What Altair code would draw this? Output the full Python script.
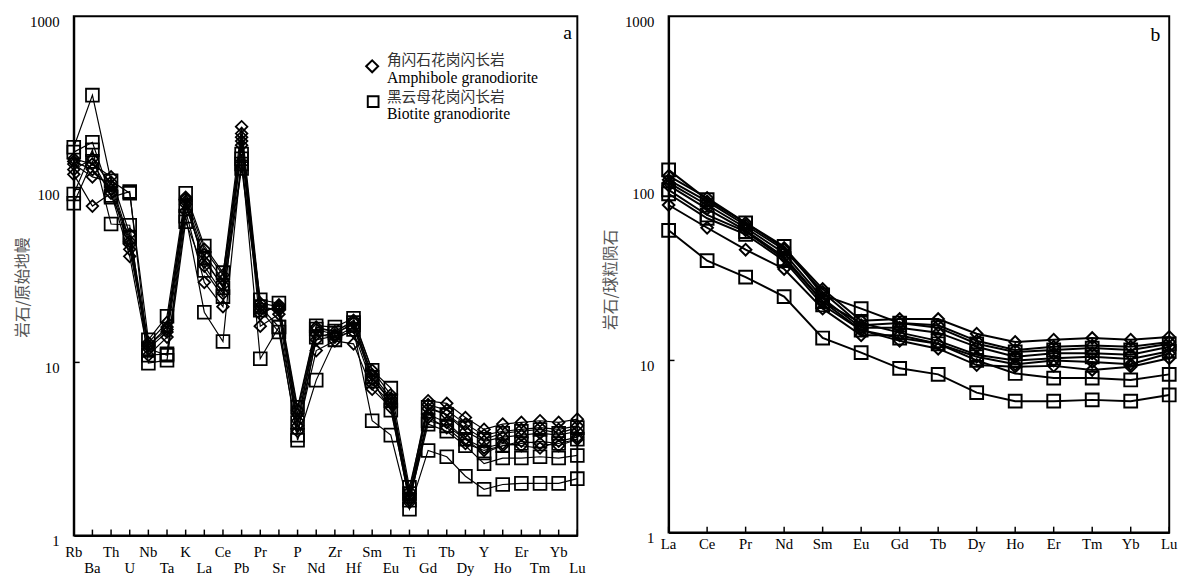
import json
import altair as alt
import pandas as pd

# ---------------- data ----------------
ELEMENTS_A = ["Rb", "Ba", "Th", "U", "Nb", "Ta", "K", "La", "Ce", "Pb", "Pr", "Sr", "P", "Nd",
              "Zr", "Hf", "Sm", "Eu", "Ti", "Gd", "Tb", "Dy", "Y", "Ho", "Er", "Tm", "Yb", "Lu"]
ELEMENTS_B = ["La", "Ce", "Pr", "Nd", "Sm", "Eu", "Gd", "Tb", "Dy", "Ho", "Er", "Tm", "Yb", "Lu"]

SAMPLES = ["A1", "A2", "A3", "A4", "A5", "B1", "B2", "B3", "B4"]
ROCK_GROUPS = ["Amphibole"] * 5 + ["Biotite"] * 4

# primitive-mantle normalised (panel a)
PM_A1 = [150, 140, 118, 55, 13, 17, 90, 45, 32, 230, 22, 21, 5.3, 16, 15, 17.5, 9, 6.5, 1.8, 6.0, 5.8, 4.8, 4.1, 4.4, 4.5, 4.6, 4.5, 4.7]
PM_A2 = [140, 118, 110, 50, 12.5, 16, 85, 42, 30, 210, 21, 20, 5.0, 15.5, 14.5, 17, 8.5, 6.2, 1.7, 5.7, 5.3, 4.4, 3.8, 4.0, 4.1, 4.2, 4.1, 4.3]
PM_A3 = [130, 150, 105, 48, 12, 15, 82, 38, 28, 200, 20, 20.5, 4.6, 14.5, 14, 16, 8, 6, 1.65, 5.4, 5.0, 4.0, 3.5, 3.7, 3.8, 3.9, 3.8, 4.0]
PM_A4 = [122, 80, 95, 41, 11, 14, 75, 29, 21, 180, 16.2, 19, 4.0, 11.7, 13.3, 12.8, 7, 5.5, 1.55, 4.8, 4.2, 3.4, 3.1, 3.3, 3.5, 3.4, 3.3, 3.6]
PM_A5 = [145, 130, 100, 45, 12.5, 15.5, 88, 36, 25, 190, 19, 21.5, 4.3, 13.5, 14.2, 15, 7.5, 5.8, 1.6, 5.0, 4.5, 3.6, 3.2, 3.4, 3.3, 3.2, 3.5, 3.7]
PM_B1 = [175, 350, 112, 95, 13.5, 18.5, 95, 47, 33, 160, 23, 22, 5.5, 16.3, 16, 18, 9, 7.1, 1.9, 5.5, 5.0, 4.2, 3.6, 3.9, 4.0, 4.1, 3.9, 4.2]
PM_B2 = [164, 187, 90, 97, 11, 11.2, 80, 40, 27, 140, 21, 16, 4.5, 15.6, 15.2, 17, 8.2, 6.0, 1.75, 4.6, 4.3, 3.6, 3.0, 3.3, 3.4, 3.5, 3.4, 3.6]
PM_B3 = [94, 169, 63, 62, 9.9, 10.3, 65, 34, 24, 132, 20, 15, 3.8, 14, 14.8, 16.5, 7.8, 5.3, 1.6, 4.4, 4.0, 3.3, 2.6, 2.8, 2.8, 2.85, 2.8, 2.9]
PM_B4 = [83, 145, 92, 53, 12, 11, 70, 19.5, 13.2, 150, 10.5, 16, 3.55, 7.9, 13.5, 15.5, 4.6, 3.8, 1.42, 3.1, 2.85, 2.2, 1.85, 1.97, 2.0, 2.0, 2.0, 2.13]

# chondrite normalised (panel b)
CH_A1 = [118, 88, 63, 45, 26, 17, 17.4, 17.4, 14.3, 12.8, 13.2, 13.5, 13.2, 13.7]
CH_A2 = [112, 84, 61, 44, 25, 16, 16.5, 16, 13, 11.5, 12, 12.2, 12, 12.8]
CH_A3 = [108, 80, 59, 42, 23, 15.5, 15.5, 14.5, 12, 10.5, 11, 11, 10.8, 12]
CH_A4 = [80, 59, 44, 34, 20, 14, 14, 12.5, 10.5, 9.5, 10, 9.8, 9.5, 11]
CH_A5 = [104, 76, 57, 40, 22, 15, 13, 11.7, 9.4, 9.2, 9.3, 8.8, 9.2, 10.3]
CH_B1 = [128, 86, 63, 46, 24, 20, 16.5, 15.5, 12.5, 11.2, 11.5, 11.8, 11.5, 12.5]
CH_B2 = [98, 70, 56, 39, 22, 16.5, 14.5, 13, 10.8, 10, 10.3, 10.5, 10.2, 11.3]
CH_B3 = [93, 67, 54, 38, 21, 15, 13.5, 12.5, 10, 8.4, 7.9, 7.9, 7.7, 8.3]
CH_B4 = [57, 38, 30.5, 23.5, 13.5, 11.1, 9, 8.3, 6.5, 5.8, 5.8, 5.9, 5.8, 6.3]

PM_SERIES = [PM_A1, PM_A2, PM_A3, PM_A4, PM_A5, PM_B1, PM_B2, PM_B3, PM_B4]
CH_SERIES = [CH_A1, CH_A2, CH_A3, CH_A4, CH_A5, CH_B1, CH_B2, CH_B3, CH_B4]

Y_TICKS = [1, 10, 100, 1000]
LEGEND_CN = ["角闪石花岗闪长岩", "黑云母花岗闪长岩"]
LEGEND_EN = ["Amphibole granodiorite", "Biotite granodiorite"]
TITLE_A = "岩石/原始地幔"
TITLE_B = "岩石/球粒陨石"


def long_table(elements, series):
    rows = []
    for name, grp, vals in zip(SAMPLES, ROCK_GROUPS, series):
        for i, (el, v) in enumerate(zip(elements, vals)):
            rows.append(dict(sample=name, group=grp, element=el, idx=i, value=v))
    return pd.DataFrame(rows)


df_a = long_table(ELEMENTS_A, PM_SERIES)
df_b = long_table(ELEMENTS_B, CH_SERIES)
ticks_a = pd.DataFrame({"idx": list(range(len(ELEMENTS_A))), "element": ELEMENTS_A,
                        "row": [i % 2 for i in range(len(ELEMENTS_A))]})
ticks_b = pd.DataFrame({"idx": list(range(len(ELEMENTS_B))), "element": ELEMENTS_B})
yt = pd.DataFrame({"value": [10, 100]})

SERIF = "Liberation Serif"
CJK = "Noto Sans CJK SC"

W_A, H_A = 513, 529
W_B, H_B = 510, 526


def make_encodings(n, title, titleX, titleY):
    xs = alt.Scale(domain=[0, n - 1], nice=False, zero=False)
    ys = alt.Scale(type="log", domain=[1, 1000], nice=False)
    x = alt.X("idx:Q", scale=xs, axis=alt.Axis(labels=False, ticks=False, grid=False, title=None,
                                                domainColor="black", domainWidth=2))
    y = alt.Y("value:Q", scale=ys,
              axis=alt.Axis(values=Y_TICKS, format="d", ticks=False, grid=False,
                            labelFont=SERIF, labelFontSize=15, labelColor="black",
                            labelPadding=15, labelOffset=5,
                            title=title, titleFont=CJK, titleFontSize=16, titleFontWeight="normal",
                            titleColor="#555", titleX=titleX, titleY=titleY, titleAngle=270,
                            titleBaseline="middle", titleAlign="center",
                            domainColor="black", domainWidth=2))
    return x, y


def panel(df, ticks, x, y, H, pw, lw, psize):
    lines = alt.Chart(df).mark_line(color="black", strokeWidth=lw).encode(
        x=x, y=y, detail="sample:N", order="idx:Q")
    points = alt.Chart(df).mark_point(filled=False, color="black", strokeWidth=pw, opacity=1).encode(
        x=x, y=y,
        shape=alt.Shape("group:N", scale=alt.Scale(domain=["Amphibole", "Biotite"],
                                                    range=["diamond", "square"]), legend=None),
        size=alt.Size("group:N", scale=alt.Scale(domain=["Amphibole", "Biotite"],
                                                  range=psize), legend=None))
    xt = alt.Chart(ticks).mark_rule(color="black", strokeWidth=1.5).encode(
        x=x, y=alt.value(H), y2=alt.value(H - 6))
    ytk = alt.Chart(yt).mark_rule(color="black", strokeWidth=1.5).encode(
        y=y, x=alt.value(0), x2=alt.value(6))
    return lines, points, xt, ytk


# ---------------- panel a ----------------
xa, ya = make_encodings(len(ELEMENTS_A), TITLE_A, -52, 276)
la, pa, xta, yta = panel(df_a, ticks_a, xa, ya, H_A, 1.8, 1.2, [140, 170])
lab_a0 = alt.Chart(ticks_a).transform_filter("datum.row == 0").mark_text(
    font=SERIF, fontSize=15, color="black", baseline="middle").encode(
    x=xa, y=alt.value(H_A + 17), text="element:N")
lab_a1 = alt.Chart(ticks_a).transform_filter("datum.row == 1").mark_text(
    font=SERIF, fontSize=15, color="black", baseline="middle").encode(
    x=xa, y=alt.value(H_A + 33), text="element:N")

leg_df = pd.DataFrame({"cn": LEGEND_CN, "en": LEGEND_EN})
leg_sym1 = alt.Chart(leg_df.iloc[[0]]).mark_point(shape="diamond", filled=False, color="black",
                                                    strokeWidth=2, size=150, opacity=1).encode(
    x=alt.value(304), y=alt.value(51))
leg_sym2 = alt.Chart(leg_df.iloc[[1]]).mark_point(shape="square", filled=False, color="black",
                                                    strokeWidth=2, size=120, opacity=1).encode(
    x=alt.value(305), y=alt.value(87))
leg_cn1 = alt.Chart(leg_df.iloc[[0]]).mark_text(font=CJK, fontSize=15, color="#333", align="left",
                                                  baseline="middle").encode(
    x=alt.value(319), y=alt.value(45), text="cn:N")
leg_en1 = alt.Chart(leg_df.iloc[[0]]).mark_text(font=SERIF, fontSize=16, color="black", align="left",
                                                  baseline="middle").encode(
    x=alt.value(319), y=alt.value(63), text="en:N")
leg_cn2 = alt.Chart(leg_df.iloc[[1]]).mark_text(font=CJK, fontSize=15, color="#333", align="left",
                                                  baseline="middle").encode(
    x=alt.value(319), y=alt.value(82), text="cn:N")
leg_en2 = alt.Chart(leg_df.iloc[[1]]).mark_text(font=SERIF, fontSize=16, color="black", align="left",
                                                  baseline="middle").encode(
    x=alt.value(319), y=alt.value(100), text="en:N")
letter_a = alt.Chart(pd.DataFrame({"t": ["a"]})).mark_text(font=SERIF, fontSize=20, color="black",
                                                          baseline="middle").encode(
    x=alt.value(503), y=alt.value(17), text="t:N")

chart_a = alt.layer(la, pa, xta, yta, lab_a0, lab_a1, leg_sym1, leg_sym2, leg_cn1, leg_en1,
                    leg_cn2, leg_en2, letter_a).properties(width=W_A, height=H_A)

# ---------------- panel b ----------------
xb, yb = make_encodings(len(ELEMENTS_B), TITLE_B, -59, 268)
lb, pb, xtb, ytb = panel(df_b, ticks_b, xb, yb, H_B, 2, 2, [150, 170])
lab_b = alt.Chart(ticks_b).mark_text(font=SERIF, fontSize=15, color="black", baseline="middle").encode(
    x=xb, y=alt.value(H_B + 12), text="element:N")
letter_b = alt.Chart(pd.DataFrame({"t": ["b"]})).mark_text(font=SERIF, fontSize=20, color="black",
                                                          baseline="middle").encode(
    x=alt.value(496), y=alt.value(19), text="t:N")
chart_b = alt.layer(lb, pb, xtb, ytb, lab_b, letter_b).properties(width=W_B, height=H_B)

chart = alt.hconcat(chart_a, chart_b, spacing=13).properties(
    padding={"left": 6, "top": 0, "right": 0, "bottom": 0}, background="white"
).configure_view(stroke="black", strokeWidth=2)

chart.save("out.html", embed_options={"renderer": "svg", "actions": False})
